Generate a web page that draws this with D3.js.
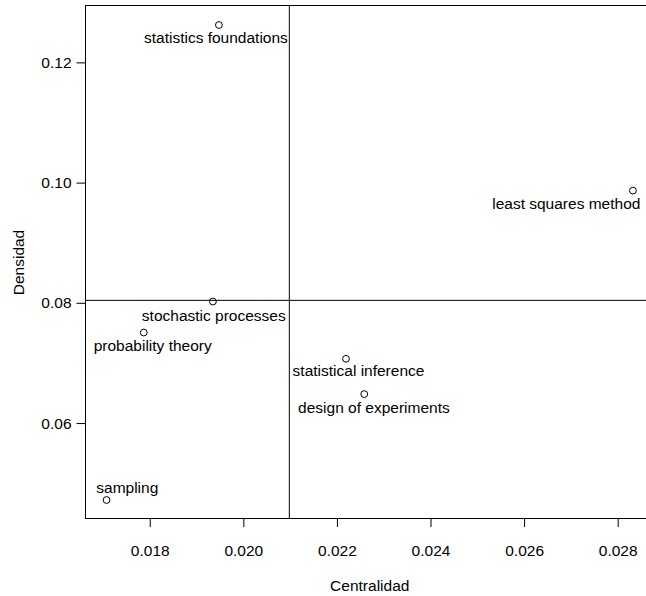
<!DOCTYPE html>
<html>
<head>
<meta charset="utf-8">
<script src="https://cdn.jsdelivr.net/npm/d3@7/dist/d3.min.js"></script>
<style>
  html, body { margin: 0; padding: 0; background: #fff; }
  svg { display: block; }
  text { font-family: "Liberation Sans", Arial, Helvetica, sans-serif; fill: #000; }
</style>
</head>
<body>
<svg id="chart" width="646" height="596"></svg>
<script>
// ---- data ----
const terms = ["statistics foundations", "least squares method", "stochastic processes",
               "probability theory", "statistical inference", "design of experiments", "sampling"];
const centralidad = [0.019478, 0.028326, 0.019350, 0.017872, 0.022194, 0.022584, 0.017077];
const densidad    = [0.126217, 0.098670, 0.080216, 0.075062, 0.070690, 0.064821, 0.047200];
// label centres (data units), as placed in the reference
const labelX = [0.019414, 0.026902, 0.019369, 0.018064, 0.022461, 0.022791, 0.017520];
const labelY = [0.124060, 0.096459, 0.077938, 0.072901, 0.068795, 0.062544, 0.049343];
const xTicks = [0.018, 0.020, 0.022, 0.024, 0.026, 0.028];
const yTicks = [0.06, 0.08, 0.10, 0.12];
const xTitle = "Centralidad";
const yTitle = "Densidad";

// ---- layout ----
const svg = d3.select("#chart");
const fs = 15.5;
const pLeft = 85.5, pRight = 654, pTop = 6, pBottom = 519;

function padded(v) {
  const [a, b] = d3.extent(v);
  const p = (b - a) * 0.04;
  return [a - p, b + p];
}
const x = d3.scaleLinear().domain(padded(centralidad)).range([pLeft, pRight]);
const y = d3.scaleLinear().domain(padded(densidad)).range([pBottom, pTop]);

const pts = terms.map((t, i) => ({ t, x: centralidad[i], y: densidad[i], lx: labelX[i], ly: labelY[i] }));

// box
svg.append("rect")
  .attr("x", pLeft).attr("y", pTop - 0.5)
  .attr("width", pRight - pLeft).attr("height", pBottom - pTop)
  .attr("fill", "none").attr("stroke", "#000").attr("stroke-width", 1);

// x axis
const xAxis = d3.axisBottom(x).tickValues(xTicks).tickSize(8.5).tickPadding(18)
  .tickFormat(d3.format(".3f"));
const gx = svg.append("g").attr("transform", `translate(0,${pBottom - 0.5})`).call(xAxis);
gx.select(".domain").remove();
gx.selectAll("line").attr("stroke", "#000");
gx.selectAll("text").attr("font-size", fs).attr("font-family", "Liberation Sans, Arial, sans-serif").attr("fill", "#000");

// y axis
const yAxis = d3.axisLeft(y).tickValues(yTicks).tickSize(9).tickPadding(5)
  .tickFormat(d3.format(".2f"));
const gy = svg.append("g").attr("transform", `translate(${pLeft},0)`).call(yAxis);
gy.select(".domain").remove();
gy.selectAll("line").attr("stroke", "#000");
gy.selectAll("text").attr("font-size", fs).attr("font-family", "Liberation Sans, Arial, sans-serif").attr("fill", "#000");

// mean reference lines
const mx = d3.mean(centralidad), my = d3.mean(densidad);
svg.append("clipPath").attr("id", "pc").append("rect")
  .attr("x", pLeft).attr("y", pTop).attr("width", pRight - pLeft).attr("height", pBottom - pTop);
svg.append("line").attr("clip-path", "url(#pc)")
  .attr("x1", x(mx)).attr("x2", x(mx)).attr("y1", pTop).attr("y2", pBottom)
  .attr("stroke", "#000").attr("stroke-width", 1);
svg.append("line").attr("clip-path", "url(#pc)")
  .attr("x1", pLeft).attr("x2", pRight).attr("y1", y(my)).attr("y2", y(my))
  .attr("stroke", "#000").attr("stroke-width", 1);

// points
svg.append("g").selectAll("circle").data(pts).join("circle")
  .attr("cx", d => x(d.x)).attr("cy", d => y(d.y)).attr("r", 3.4)
  .attr("fill", "none").attr("stroke", "#000").attr("stroke-width", 1);

// labels
svg.append("g").selectAll("text").data(pts).join("text")
  .attr("x", d => x(d.lx)).attr("y", d => y(d.ly))
  .attr("dy", "0.35em").attr("text-anchor", "middle")
  .attr("font-size", fs)
  .text(d => d.t);

// titles
svg.append("text").attr("x", (pLeft + pRight) / 2).attr("y", 591)
  .attr("text-anchor", "middle").attr("font-size", fs).text(xTitle);
svg.append("text").attr("transform", `translate(24,${(pTop + pBottom) / 2}) rotate(-90)`)
  .attr("text-anchor", "middle").attr("font-size", fs).text(yTitle);
</script>
</body>
</html>
